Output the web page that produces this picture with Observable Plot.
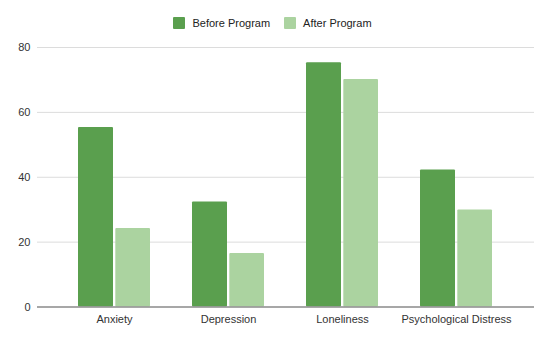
<!DOCTYPE html>
<html>
<head>
<meta charset="utf-8">
<script src="https://cdn.jsdelivr.net/npm/d3@7"></script>
<script src="https://cdn.jsdelivr.net/npm/@observablehq/plot@0.6"></script>
<style>
  html, body { margin: 0; padding: 0; background: #fff; }
  body { width: 560px; height: 341px; overflow: hidden; font-family: "Liberation Sans", Arial, sans-serif; }
  #legend { height: 36px; display: flex; align-items: center; justify-content: center; font-size: 11px; color: #222; padding-top: 10px; padding-right: 15px; box-sizing: border-box; }
  .item { display: flex; align-items: center; margin: 0 7px; }
  .sw { width: 12px; height: 12px; margin-right: 7px; border-radius: 1px; }
</style>
</head>
<body>
<div id="legend"></div>
<div id="chart"></div>
<script>
const categories = ["Anxiety", "Depression", "Loneliness", "Psychological Distress"];
const seriesNames = ["Before Program", "After Program"];
const beforeValues = [55.3, 32.4, 75.3, 42.2];
const afterValues = [24.2, 16.5, 70.1, 29.9];
const yTicks = [0, 20, 40, 60, 80];
const colors = ["#5a9f4e", "#abd3a0"];

const data = categories.flatMap((c, i) => [
  {category: c, series: seriesNames[0], value: beforeValues[i]},
  {category: c, series: seriesNames[1], value: afterValues[i]}
]);

const legend = document.getElementById("legend");
seriesNames.forEach((s, i) => {
  const it = document.createElement("div");
  it.className = "item";
  it.innerHTML = `<span class="sw" style="background:${colors[i]}"></span><span>${s}</span>`;
  legend.appendChild(it);
});

const chart = Plot.plot({
  width: 560,
  height: 305,
  marginLeft: 37,
  marginRight: 26,
  marginTop: 11,
  marginBottom: 34.5,
  style: {fontFamily: "Liberation Sans, Arial, sans-serif", fontSize: "11px", color: "#333", background: "#fff"},
  x: {domain: categories, paddingInner: 0.37, paddingOuter: 0, insetLeft: 39.7, insetRight: 41, label: null, tickSize: 0, tickPadding: 8},
  y: {domain: [0, 80], ticks: yTicks, label: null, tickSize: 0, tickPadding: 7},
  color: {domain: seriesNames, range: colors},
  marks: [
    Plot.ruleY(yTicks.filter(d => d > 0), {stroke: "#dcdcdc", strokeWidth: 1}),
    Plot.barY(data.filter(d => d.series === seriesNames[0]), {x: "category", y: "value", fill: "series", insetRight: 37, rx: 1}),
    Plot.barY(data.filter(d => d.series === seriesNames[1]), {x: "category", y: "value", fill: "series", insetLeft: 37.3, rx: 1}),
    Plot.ruleY([0], {stroke: "#8a8a8a", strokeWidth: 1.5})
  ]
});
document.getElementById("chart").appendChild(chart);
</script>
</body>
</html>
